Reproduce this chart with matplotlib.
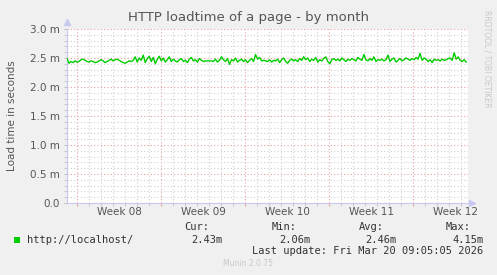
from matplotlib import pyplot as plt
from matplotlib.ticker import MultipleLocator, FixedLocator, NullFormatter, FuncFormatter
import numpy as np

W, H, DPI = 497, 275, 100

# Munin month view: x in days from left edge of plot
week_starts = [0.83, 7.83, 14.83, 21.83, 28.83]
week_labels = ["Week 08", "Week 09", "Week 10", "Week 11", "Week 12"]

# load time in ms (left to right)
load_ms = [
    2.49, 2.41, 2.44, 2.42, 2.45, 2.43, 2.44, 2.47, 2.48, 2.46, 2.44, 2.43, 2.45, 2.44, 2.42, 2.43, 2.45,
    2.47, 2.45, 2.42, 2.44, 2.46, 2.48, 2.45, 2.47, 2.48, 2.46, 2.44, 2.42, 2.41, 2.43, 2.45, 2.44, 2.46,
    2.52, 2.43, 2.50, 2.46, 2.55, 2.42, 2.49, 2.53, 2.44, 2.51, 2.40, 2.48, 2.53, 2.45, 2.50, 2.43,
    2.47, 2.52, 2.44, 2.48, 2.45, 2.43, 2.47, 2.49, 2.44, 2.46, 2.42, 2.48, 2.51, 2.45, 2.47, 2.43, 2.49,
    2.46, 2.44, 2.45, 2.45, 2.45, 2.45, 2.44, 2.48, 2.43, 2.46, 2.52, 2.47, 2.44, 2.49, 2.39, 2.47, 2.45,
    2.50, 2.43, 2.46, 2.48, 2.44, 2.47, 2.42, 2.46, 2.49, 2.44, 2.56, 2.48, 2.51, 2.45, 2.46, 2.45,
    2.44, 2.47, 2.43, 2.46, 2.45, 2.48, 2.42, 2.47, 2.50, 2.44, 2.41, 2.46, 2.48, 2.45, 2.47, 2.44, 2.49,
    2.46, 2.52, 2.47, 2.50, 2.44, 2.48, 2.46, 2.51, 2.43, 2.47, 2.45, 2.49, 2.52, 2.44, 2.40, 2.47, 2.49,
    2.46, 2.48, 2.45, 2.50, 2.47, 2.44, 2.48, 2.46, 2.49, 2.47, 2.45, 2.51, 2.48, 2.46, 2.56, 2.47,
    2.45, 2.49, 2.46, 2.52, 2.44, 2.47, 2.46, 2.48, 2.45, 2.47, 2.55, 2.44, 2.48, 2.50, 2.43, 2.46, 2.49,
    2.45, 2.47, 2.50, 2.48, 2.46, 2.49, 2.47, 2.51, 2.48, 2.58, 2.46, 2.50, 2.48, 2.44, 2.47, 2.42, 2.48,
    2.46, 2.47, 2.45, 2.48, 2.46, 2.47, 2.49, 2.50, 2.46, 2.59, 2.48, 2.52, 2.46, 2.44, 2.47, 2.43,
]
data_end = 33.25
x_max = 33.4

series_name = "http://localhost/"
stat_names = ["Cur:", "Min:", "Avg:", "Max:"]
stat_values = ["2.43m", "2.06m", "2.46m", "4.15m"]
last_update = "Last update: Fri Mar 20 09:05:05 2026"

BG = "#F0F0F0"
TXT = "#555555"
GREEN = "#00CC00"

fig = plt.figure(figsize=(W / DPI, H / DPI), dpi=DPI, facecolor=BG)
ax = fig.add_axes([67 / W, 1 - 203 / H, (468 - 67) / W, (203 - 29) / H])
ax.set_facecolor("white")

t = np.linspace(0, data_end, len(load_ms))
ax.plot(t, load_ms, color=GREEN, linewidth=1.0, zorder=3)

# grid: red dotted major, grey dotted minor
ax.yaxis.set_major_locator(MultipleLocator(0.5))
ax.yaxis.set_minor_locator(MultipleLocator(0.1))
ax.yaxis.set_major_formatter(FuncFormatter(lambda v, p: f"{v:.1f} m" if v > 0 else "0.0"))
ax.xaxis.set_major_locator(FixedLocator(week_starts))
days = np.arange(week_starts[0], x_max, 1.0)
ax.xaxis.set_minor_locator(FixedLocator(days))
ax.xaxis.set_major_formatter(NullFormatter())
ax.grid(which="minor", color="#D0D0D0", linestyle=(0, (1, 2)), linewidth=0.8)
ax.grid(which="major", color="#E8A0A0", linestyle=(0, (1, 2)), linewidth=0.8)
ax.set_axisbelow(True)

ax.tick_params(axis="y", which="both", length=2, color="#C0C0C0", pad=3, labelcolor=TXT, labelsize=7.5)
ax.tick_params(axis="x", which="both", length=2, color="#E8A0A0")
ax.tick_params(axis="x", which="minor", color="#C0C0C0")

for s in ["top", "right"]:
    ax.spines[s].set_visible(False)
for s in ["left", "bottom"]:
    ax.spines[s].set_color("#C8C8F0")
    ax.spines[s].set_linewidth(0.8)

# axis arrows
ax.plot([0], [1.04], marker="^", color="#C8C8F0", markersize=4, transform=ax.transAxes, clip_on=False)
ax.plot([1.01], [0], marker=">", color="#C8C8F0", markersize=4, transform=ax.transAxes, clip_on=False)

ax.set_xlim(0, x_max)
ax.set_ylim(0, 3.0)

for lab, ws in zip(week_labels, week_starts):
    ax.text(ws + 3.5, -0.16, lab, ha="center", va="center", fontsize=7.5, color=TXT, clip_on=False)

fig.text(0.5, 1 - 18 / H, "HTTP loadtime of a page - by month", ha="center", va="center",
         fontsize=9.5, color=TXT)
fig.text(12 / W, 1 - 116 / H, "Load time in seconds", rotation=90, ha="center", va="center",
         fontsize=7.5, color=TXT)
fig.text(487 / W, 1 - 10 / H, "RRDTOOL / TOBI OETIKER", rotation=270, ha="center", va="top",
         fontsize=5.5, color="#C8C8C8")

# legend
mono = "DejaVu Sans Mono"
fig.patches.append(plt.Rectangle((14 / W, 1 - 243 / H), 6 / W, 6 / H, transform=fig.transFigure,
                                 facecolor=GREEN, edgecolor="none"))
fig.text(27 / W, 1 - 240 / H, series_name, ha="left", va="center", fontsize=7.5, family=mono, color="#333333")
stat_x = [197, 284, 371, 458]
for name, val, x in zip(stat_names, stat_values, stat_x):
    fig.text(x / W, 1 - 227 / H, name, ha="center", va="center", fontsize=7.5, family=mono, color="#333333")
    fig.text((x + 26) / W, 1 - 240 / H, val, ha="right", va="center", fontsize=7.5, family=mono, color="#333333")
fig.text(483 / W, 1 - 251 / H, last_update, ha="right", va="center", fontsize=7.5, family=mono, color="#333333")
fig.text(248 / W, 1 - 264 / H, "Munin 2.0.75", ha="center", va="center", fontsize=5.5, color="#C8C8C8")

fig.savefig("out.png", dpi=DPI, facecolor=BG)
